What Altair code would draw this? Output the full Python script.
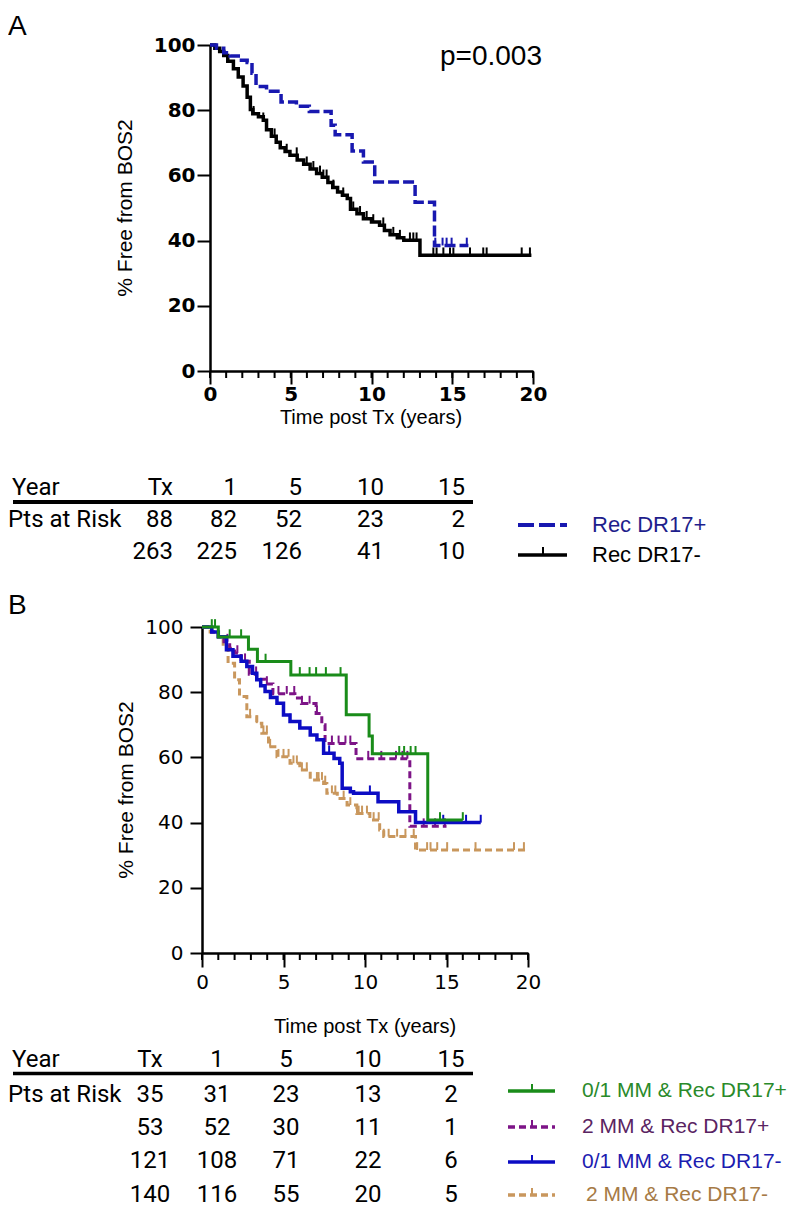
import altair as alt
import pandas as pd

# ---------------- Panel A data (Kaplan-Meier steps) ----------------
a_neg_t = [0, 0.3, 0.6, 0.85, 1.1, 1.45, 1.75, 2.05, 2.3, 2.5, 2.65, 3.0, 3.3, 3.5, 3.8, 4.1, 4.35, 4.65, 4.95, 5.4,
           5.8, 6.2, 6.6, 6.95, 7.3, 7.6, 7.9, 8.2, 8.5, 8.7, 9.1, 9.5, 10.0, 10.5, 10.8, 11.15, 11.6, 12.0, 13.0, 19.9]
a_neg_s = [100, 99, 98, 96.8, 95, 92.7, 90.2, 87.4, 84, 80.2, 78.9, 78, 76.9, 74, 72, 70.2, 68.5, 67.3, 66.2, 64.7,
           63.4, 62, 60.6, 59.4, 57.8, 56.3, 54.9, 53.9, 52.9, 49.6, 48.2, 46.7, 45.7, 44.7, 43.1, 41.8, 40.9, 40.1, 35.5, 35.5]
a_neg_cens = [2.7, 3.3, 4.0, 4.75, 5.37, 5.99, 6.4, 6.81, 7.02, 7.22, 7.64, 8.25, 8.87, 9.29, 9.7, 10.11, 10.73, 11.35,
              11.76, 12.38, 12.59, 12.79, 13.83, 14.03, 14.45, 14.86, 15.07, 16.1, 16.92, 17.13, 19.3, 19.81]

a_pos_t = [0, 0.4, 0.85, 1.25, 1.75, 2.3, 2.6, 2.85, 3.5, 4.4, 5.35, 6.15, 7.5, 7.75, 8.8, 9.5, 10.2, 12.7, 13.9, 16.0]
a_pos_s = [100, 99, 97.6, 96.6, 95.3, 94.6, 91.3, 87.3, 85.8, 82.5, 81.2, 79.6, 75.4, 72.5, 67.5, 64.1, 58.0, 51.8, 38.5, 38.5]
a_pos_cens = [13.95, 14.4, 14.65, 14.96, 15.9]

# ---------------- Panel B data ----------------
b_g_t = [0, 1.0, 2.85, 3.4, 5.45, 8.85, 10.25, 10.45, 13.85, 16.0]
b_g_s = [100, 96.9, 93.2, 89.4, 85.3, 73.1, 66.6, 61.1, 40.8, 40.8]
b_g_cens = [0.6, 0.8, 1.7, 2.4, 3.9, 6.0, 6.6, 7.0, 7.6, 8.5, 12.1, 12.4, 12.8, 13.1, 14.6, 16.0]

b_p_t = [0, 0.6, 1.0, 1.35, 1.7, 2.0, 2.4, 2.9, 3.35, 3.9, 4.35, 5.7, 6.1, 7.0, 7.35, 7.55, 9.45, 12.75, 15.0]
b_p_s = [100, 98.5, 97.0, 95.5, 93.5, 92.0, 89.5, 85.5, 84.0, 82.5, 79.5, 78.2, 76.5, 73.5, 70.0, 64.3, 59.6, 38.9, 38.9]
b_p_cens = [1.56, 2.17, 2.64, 3.32, 3.98, 4.69, 5.2, 5.66, 6.13, 6.6, 7.05, 7.97, 8.38, 8.8, 9.1, 10.2, 11.0,
            11.9, 12.3, 12.6, 13.6, 14.3, 14.9]

b_b_t = [0, 0.6, 1.0, 1.5, 1.9, 2.4, 2.75, 3.1, 3.36, 3.6, 3.87, 4.2, 4.6, 5.0, 5.4, 6.0, 6.64, 7.05, 7.46, 8.1,
         8.45, 8.6, 9.1, 9.3, 10.8, 12.07, 13.1, 17.1]
b_b_s = [100, 98.5, 97, 93, 91, 89.5, 87.9, 85.8, 83.8, 82.0, 80.2, 78.4, 76.6, 73, 71, 69, 66.9, 65.4, 61.3, 59.7,
         58.2, 50.5, 49.5, 49.0, 46.4, 43.3, 40.0, 40.0]
b_b_cens = [3.6, 5.4, 7.8, 10.3, 14.8, 16.2, 17.1]

b_t_t = [0, 0.5, 1.0, 1.3, 1.6, 2.0, 2.3, 2.75, 3.36, 3.67, 4.08, 4.6, 5.4, 6.0, 6.64, 7.46, 7.66, 8.3, 8.9, 9.5,
         10.3, 10.9, 11.15, 13.1, 19.86]
b_t_s = [100, 98.5, 97, 94, 88.9, 83.8, 78.7, 72.5, 70.5, 67.4, 63.3, 60.2, 58.2, 56.1, 53.1, 52.0, 49.0, 47.4, 45.4,
         42.8, 40.8, 37.7, 35.7, 31.6, 31.6]
b_t_cens = [2.95, 3.36, 3.77, 3.98, 4.18, 4.69, 5.0, 5.31, 5.61, 5.82, 6.13, 6.43, 7.05, 7.15, 7.36, 7.56, 7.97, 8.18,
            8.69, 9.1, 9.51, 9.61, 9.82, 10.12, 10.53, 10.84, 11.15, 11.45, 11.97, 12.48, 12.99, 13.2, 13.81, 14.02,
            14.43, 15.04, 16.78, 19.14, 19.75]

# ---------------- tables / labels ----------------
year_header = ["Tx", "1", "5", "10", "15"]
a_risk = [[88, 82, 52, 23, 2], [263, 225, 126, 41, 10]]
b_risk = [[35, 31, 23, 13, 2], [53, 52, 30, 11, 1], [121, 108, 71, 22, 6], [140, 116, 55, 20, 5]]
a_legend = ["Rec DR17+", "Rec DR17-"]
b_legend = ["0/1 MM & Rec DR17+", "2 MM & Rec DR17+", "0/1 MM & Rec DR17-", "2 MM & Rec DR17-"]
y_ticks = [0, 20, 40, 60, 80, 100]
x_major = [0, 5, 10, 15, 20]
x_minor = list(range(0, 21))

ONE = pd.DataFrame({"k": [0]})
TABLE_FONT = "Liberation Sans Narrow, Roboto, Liberation Sans, sans-serif"
ARIAL = "Liberation Sans, Arial, sans-serif"

# Both panels share the same group origin (x = 210 on the page); panel B's
# axes are shifted 8 px left through the scale range and an axis offset.
GROUP_X = 210


def surv_at(ts, ss, c):
    v = ss[0]
    for t, s in zip(ts, ss):
        if t <= c:
            v = s
    return v


def make_panel(axis_x, OY, W, H, curves, xaxis, yaxis, minor_len, extras):
    shift = GROUP_X - axis_x          # how far the axes sit left of the group origin
    xs = alt.Scale(domain=[0, 20], nice=False, range=[-shift, W - shift])
    ys = alt.Scale(domain=[0, 100], nice=False)

    def X(f):
        return alt.X(f, type="quantitative", scale=xs, axis=xaxis)

    def Y(f):
        return alt.Y(f, type="quantitative", scale=ys, axis=yaxis)

    OX = GROUP_X
    layers = [
        alt.Chart(pd.DataFrame({"t": x_minor})).mark_rule(color="black", strokeWidth=2).encode(
            x=X("t"), y=alt.value(H), y2=alt.value(H + minor_len))
    ]
    for c in curves:
        df = pd.DataFrame({"t": c["t"], "s": c["s"]})
        mk = dict(interpolate="step-after", color=c["color"], strokeWidth=c["w"])
        if c.get("dash"):
            mk["strokeDash"] = c["dash"]
        layers.append(alt.Chart(df).mark_line(**mk).encode(x=X("t"), y=Y("s")))
        sv = [surv_at(c["t"], c["s"], x) for x in c["cens"]]
        cdf = pd.DataFrame({"t": c["cens"], "s": sv, "s2": [v + 2.4 for v in sv]})
        layers.append(alt.Chart(cdf).mark_rule(color=c["color"], strokeWidth=2).encode(
            x=X("t"), y=Y("s"), y2="s2:Q"))

    for e in extras:
        kind = e[0]
        if kind == "text":
            _, s, px, py, opts = e
            layers.append(alt.Chart(ONE).mark_text(text=s, **opts).encode(
                x=alt.value(px - OX), y=alt.value(py - OY)))
        elif kind == "h":
            _, x1, x2, py, opts = e
            layers.append(alt.Chart(ONE).mark_rule(**opts).encode(
                x=alt.value(x1 - OX), x2=alt.value(x2 - OX), y=alt.value(py - OY)))
        elif kind == "v":
            _, px, y1, y2, opts = e
            layers.append(alt.Chart(ONE).mark_rule(**opts).encode(
                x=alt.value(px - OX), y=alt.value(y1 - OY), y2=alt.value(y2 - OY)))
    return alt.layer(*layers).properties(width=W - shift, height=H)


def T(s, px, py, size, color="black", font=ARIAL, align="left", baseline="alphabetic", weight="normal", angle=0):
    o = dict(fontSize=size, color=color, font=font, align=align, baseline=baseline, fontWeight=weight)
    if angle:
        o["angle"] = angle
    return ("text", s, px, py, o)


# ---------------- Panel A ----------------
A_AX, A_OY, A_W, A_H = 210, 43, 323, 326
axA = dict(grid=False, tickColor="black", tickWidth=2, domainColor="black", domainWidth=2.5,
           labelColor="black", labelFont="DejaVu Sans", labelFontWeight="bold", labelFontSize=20,
           labelFlush=False, title=None, tickSize=13)
xaxisA = alt.Axis(values=x_major, labelPadding=0, format="d", **axA)
yaxisA = alt.Axis(values=y_ticks, labelPadding=2, format="d", **axA)

BLUE_A = "#1818b0"
curvesA = [
    dict(t=a_neg_t, s=a_neg_s, cens=a_neg_cens, color="black", w=3.5),
    dict(t=a_pos_t, s=a_pos_s, cens=a_pos_cens, color=BLUE_A, w=3.5, dash=[11, 4]),
]

a_cols_right = [173, 237, 302, 384, 465]
extrasA = [
    # transparent top guide so that the panel letter keeps a small top margin
    ("h", 8, 30, 6, dict(color="white", strokeWidth=1, opacity=0)),
    T("A", 8, 33, 28),
    T("p=0.003", 440, 63, 28),
    T("% Free from BOS2", 126, 206, 21, align="center", baseline="middle", angle=270),
    T("Time post Tx (years)", 371, 416, 20, align="center", baseline="middle"),
    T("Year", 12, 493, 24, font=TABLE_FONT),
    T("Pts at Risk", 8, 525, 24, font=TABLE_FONT),
    ("h", 13, 473, 500, dict(color="black", strokeWidth=4)),
]
for i, h in enumerate(year_header):
    extrasA.append(T(h, a_cols_right[i], 493, 24, font=TABLE_FONT, align="right"))
for r, row in enumerate(a_risk):
    for i, v in enumerate(row):
        extrasA.append(T(str(v), a_cols_right[i], 525 + 32 * r, 24, font=TABLE_FONT, align="right"))
# legend A
extrasA += [
    ("h", 518, 567, 523, dict(color=BLUE_A, strokeWidth=4, strokeDash=[16, 5])),
    T(a_legend[0], 592, 523, 22, color="#1e1e8c", baseline="middle"),
    ("h", 518, 567, 553, dict(color="black", strokeWidth=3.5)),
    ("v", 543, 545, 553, dict(color="black", strokeWidth=2)),
    T(a_legend[1], 592, 553, 22, color="black", baseline="middle"),
]
panelA = make_panel(A_AX, A_OY, A_W, A_H, curvesA, xaxisA, yaxisA, 7, extrasA)

# ---------------- Panel B ----------------
B_AX, B_OY, B_W, B_H = 202, 627, 326, 326
axB = dict(grid=False, tickColor="black", tickWidth=2, domainColor="black", domainWidth=2.5,
           labelColor="black", labelFont="DejaVu Sans", labelFontWeight="normal", labelFontSize=20,
           labelFlush=False, title=None)
xaxisB = alt.Axis(values=x_major, labelPadding=5, tickSize=14, format="d", **axB)
yaxisB = alt.Axis(values=y_ticks, labelPadding=7, tickSize=12, format="d", offset=GROUP_X - B_AX, **axB)

GREEN, PURPLE, BLUE_B, TAN = "#1a8c1a", "#7d1487", "#0c0cc4", "#c9975d"
curvesB = [
    dict(t=b_t_t, s=b_t_s, cens=b_t_cens, color=TAN, w=3, dash=[7, 4]),
    dict(t=b_p_t, s=b_p_s, cens=b_p_cens, color=PURPLE, w=3, dash=[7, 4]),
    dict(t=b_b_t, s=b_b_s, cens=b_b_cens, color=BLUE_B, w=3.5),
    dict(t=b_g_t, s=b_g_s, cens=b_g_cens, color=GREEN, w=3),
]
b_cols_center = [150, 217, 286, 368, 451]
b_rows_y = [1102, 1135, 1168, 1202]
extrasB = [
    T("B", 8, 614, 28),
    T("% Free from BOS2", 127, 790, 21, align="center", baseline="middle", angle=270),
    T("Time post Tx (years)", 365, 1027, 20, align="center", baseline="middle"),
    T("Year", 12, 1067, 24, font=TABLE_FONT),
    T("Pts at Risk", 8, 1102, 24, font=TABLE_FONT),
    ("h", 13, 473, 1073.5, dict(color="black", strokeWidth=3.5)),
]
for i, h in enumerate(year_header):
    extrasB.append(T(h, b_cols_center[i], 1067, 24, font=TABLE_FONT, align="center"))
for r, row in enumerate(b_risk):
    for i, v in enumerate(row):
        extrasB.append(T(str(v), b_cols_center[i], b_rows_y[r], 24, font=TABLE_FONT, align="center"))
# legend B
leg_y = [1091, 1127, 1162, 1195]
leg_line = [GREEN, PURPLE, BLUE_B, TAN]
leg_text = ["#2a8a2a", "#5a2462", "#1c1cb0", "#a67a45"]
leg_dash = [None, [7, 4], None, [7, 4]]
for i in range(4):
    o = dict(color=leg_line[i], strokeWidth=3.5)
    if leg_dash[i]:
        o["strokeDash"] = leg_dash[i]
    extrasB.append(("h", 508, 555, leg_y[i], o))
    extrasB.append(("v", 532, leg_y[i] - 7, leg_y[i], dict(color=leg_line[i], strokeWidth=2)))
    extrasB.append(T(b_legend[i], 582 if i < 3 else 586, leg_y[i], 21, color=leg_text[i], baseline="middle"))
panelB = make_panel(B_AX, B_OY, B_W, B_H, curvesB, xaxisB, yaxisB, 7, extrasB)

chart = alt.vconcat(panelA, panelB, spacing=26).configure_view(stroke=None).properties(padding=0)
chart.save("out.html", embed_options={"renderer": "svg", "actions": False})
